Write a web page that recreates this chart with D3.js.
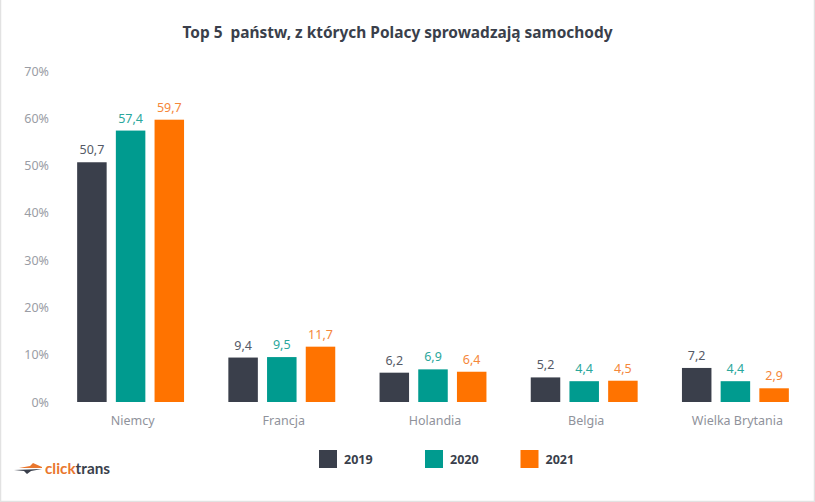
<!DOCTYPE html>
<html>
<head>
<meta charset="utf-8">
<script src="https://cdn.jsdelivr.net/npm/d3@7"></script>
<style>
  html, body { margin: 0; padding: 0; background: #fff; }
  svg { display: block; font-family: "Noto Sans", sans-serif; }
</style>
</head>
<body>
<script>
// Data
const categories = ["Niemcy", "Francja", "Holandia", "Belgia", "Wielka Brytania"];
const years = ["2019", "2020", "2021"];
const values2019 = [50.7, 9.4, 6.2, 5.2, 7.2];
const values2020 = [57.4, 9.5, 6.9, 4.4, 4.4];
const values2021 = [59.7, 11.7, 6.4, 4.5, 2.9];
const yTicks = [0, 10, 20, 30, 40, 50, 60, 70];
const title = "Top 5  państw, z których Polacy sprowadzają samochody";

const width = 815, height = 502;
const colors = d3.scaleOrdinal(years, ["#3a3f4b", "#009b8f", "#ff7300"]);
const labelColors = d3.scaleOrdinal(years, ["#555a66", "#2aa79c", "#f5873a"]);
const seriesByYear = { "2019": values2019, "2020": values2020, "2021": values2021 };

const svg = d3.select("body").append("svg")
    .attr("width", width)
    .attr("height", height);

// light frame of the picture
svg.append("rect")
    .attr("x", 0.5).attr("y", -2)
    .attr("width", width - 1).attr("height", height + 1.5)
    .attr("fill", "none")
    .attr("stroke", "#e2e2e2")
    .attr("stroke-width", 1.5);

svg.append("text")
    .attr("x", 397.5).attr("y", 38)
    .attr("text-anchor", "middle")
    .attr("font-size", 15.45)
    .attr("font-weight", 700)
    .attr("fill", "#3a3f4b")
    .style("white-space", "pre")
    .text(title);

// Scales
const x = d3.scaleBand().domain(categories).range([55, 811]);
const barStep = 38.7, barWidth = 29.5;
const xInner = d3.scaleBand().domain(years)
    .range([x.bandwidth() / 2 - barStep * 1.5, x.bandwidth() / 2 + barStep * 1.5])
    .paddingInner(1 - barWidth / barStep)
    .paddingOuter((1 - barWidth / barStep) / 2);
const y = d3.scaleLinear().domain([0, 70]).range([402, 71]);

// Axes
const yAxis = d3.axisLeft(y)
    .tickValues(yTicks)
    .tickSize(0)
    .tickPadding(0)
    .tickFormat(d => d + "%");
const yG = svg.append("g").attr("transform", "translate(49,0)").call(yAxis);
yG.select(".domain").remove();
yG.selectAll("text")
    .attr("font-family", "'Noto Sans', sans-serif")
    .attr("font-size", 12.5)
    .attr("fill", "#9a9da5");

const xAxis = d3.axisBottom(x).tickSize(0).tickPadding(0);
const xG = svg.append("g").attr("transform", "translate(2,416.5)").call(xAxis);
xG.select(".domain").remove();
xG.selectAll("text")
    .attr("font-family", "'Noto Sans', sans-serif")
    .attr("font-size", 12.5)
    .attr("fill", "#8f929b");

// Bars and value labels
const groups = svg.selectAll(".group")
    .data(categories)
    .enter().append("g")
    .attr("class", "group")
    .attr("transform", d => "translate(" + x(d) + ",0)");

years.forEach(function(year) {
    const rows = categories.map((c, i) => ({ category: c, value: seriesByYear[year][i] }));
    groups.data(rows).append("rect")
        .attr("x", xInner(year))
        .attr("y", d => y(d.value))
        .attr("width", xInner.bandwidth())
        .attr("height", d => y(0) - y(d.value))
        .attr("fill", colors(year));
    groups.data(rows).append("text")
        .attr("x", xInner(year) + xInner.bandwidth() / 2)
        .attr("y", d => y(d.value) - 8)
        .attr("text-anchor", "middle")
        .attr("font-size", 12.5)
        .attr("fill", labelColors(year))
        .text(d => String(d.value).replace(".", ","));
});

// Legend
const legendX = d3.scaleOrdinal(years, [319, 425, 520.5]);
const legend = svg.selectAll(".legend")
    .data(years)
    .enter().append("g")
    .attr("class", "legend")
    .attr("transform", d => "translate(" + legendX(d) + ",450)");
legend.append("rect")
    .attr("width", 18).attr("height", 18)
    .attr("fill", d => colors(d));
legend.append("text")
    .attr("x", 25).attr("y", 13.5)
    .attr("font-size", 12.5)
    .attr("font-weight", 700)
    .attr("fill", "#3a3f4b")
    .text(d => d);

// Logo
const logo = svg.append("g").attr("class", "logo");
logo.append("path")
    .attr("d", "M19 468 L30 466 L33 463 L42 467 L42 468 Z")
    .attr("fill", "#e9772e");
logo.append("path")
    .attr("d", "M14 470 L42 469 L31 471 L27 474 L24 471 Z")
    .attr("fill", "#3a3f4b");
const logoText = logo.append("text")
    .attr("x", 45).attr("y", 474)
    .attr("font-family", "Lato, sans-serif")
    .attr("font-size", 15.3)
    .attr("font-weight", 700);
logoText.append("tspan").attr("fill", "#e9772e").text("click");
logoText.append("tspan").attr("fill", "#3a3f4b").text("trans");
</script>
</body>
</html>
